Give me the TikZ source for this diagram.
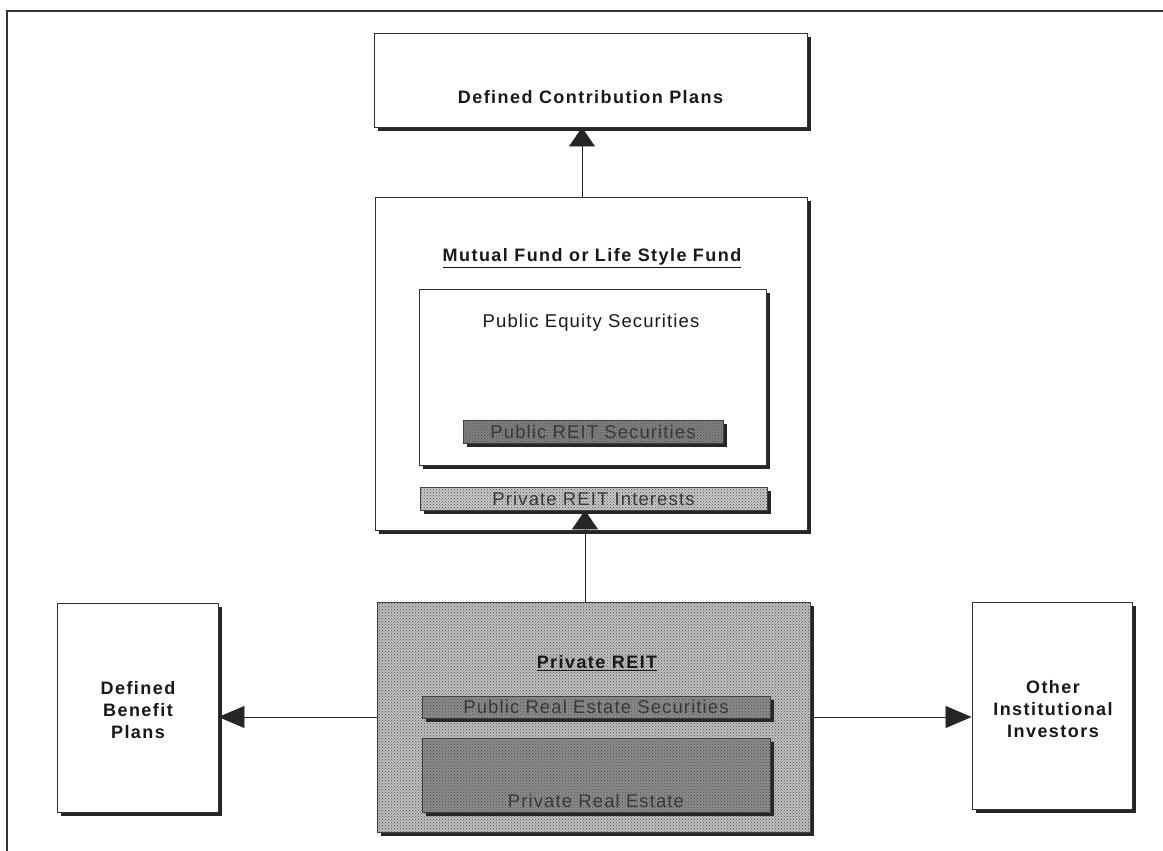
\documentclass[tikz,border=0pt]{standalone}
\usepackage{fontspec}
\setmainfont{Liberation Sans}
\newfontfamily\headfont[LetterSpace=8]{Liberation Sans}
\newfontfamily\bodyfont[LetterSpace=6]{Liberation Sans}
\usetikzlibrary{arrows.meta,shadows,patterns}

\tikzset{
  boxshadow/.style={drop shadow={shadow xshift=4pt,shadow yshift=-4pt,fill=black!85,opacity=1}},
  whitebox/.style={boxshadow, draw=black!80, line width=0.9pt, fill=white, inner sep=0pt},
  dotbox/.style={boxshadow, draw=black!75, line width=0.8pt, preaction={fill=#1},
    pattern=crosshatch dots, pattern color=black!70, inner sep=0pt},
  headtext/.style={font=\headfont\bfseries\fontsize{18}{22}\selectfont, align=center, text=black!90},
  bodytext/.style={font=\bodyfont\fontsize{18.5}{22}\selectfont, text=black!90},
  bartext/.style={font=\bodyfont\fontsize{18.5}{22}\selectfont, text=black!78},
  link/.style={draw=black!85, line width=0.8pt},
  uphead/.style={-{Triangle[length=19pt,width=26pt]}},
  sidehead/.style={-{Triangle[length=26pt,width=22pt]}}
}

\begin{document}
\begin{tikzpicture}[x=1pt,y=-1pt]
  \useasboundingbox (0,0) rectangle (1163,851);
  % page frame
  \draw[line width=2pt, black!80] (7,851) -- (7,11) -- (1163,11);

  % top: defined contribution plans
  \node[whitebox, minimum width=433pt, minimum height=94pt] (dc) at (590.5,80) {};
  \node[headtext] (dclbl) at (590.5,97) {Defined Contribution Plans};

  % mutual fund with its holdings
  \node[whitebox, minimum width=432pt, minimum height=333pt] (mf) at (591,363.5) {};
  \node[headtext] (mflbl) at (592,258) {\underline{Mutual Fund or Life Style Fund}};
  \node[whitebox, minimum width=347pt, minimum height=176pt] (pes) at (592.5,377) {};
  \node[bodytext] (peslbl) at (591,323) {Public Equity Securities};
  \node[dotbox=black!50, minimum width=260pt, minimum height=23pt, bartext] (prs) at (593,431.5) {Public REIT Securities};
  \node[dotbox=black!22, minimum width=347pt, minimum height=23pt, bartext] (pri) at (593.5,498.5) {Private REIT Interests};

  % private REIT
  \node[dotbox=black!25, minimum width=433pt, minimum height=230pt] (preit) at (593.5,717) {};
  \node[headtext] (preitlbl) at (597,663) {\underline{Private REIT}};
  \node[dotbox=black!45, minimum width=348pt, minimum height=22pt, bartext] (pres) at (596,707) {Public Real Estate Securities};
  \node[dotbox=black!45, minimum width=348pt, minimum height=74pt] (pre) at (596,775) {};
  \node[bartext] (prelbl) at (596,801) {Private Real Estate};

  % side investors
  \node[whitebox, minimum width=161pt, minimum height=209pt] (dbp) at (137.5,707.5) {};
  \node[headtext] (dbplbl) at (138,710) {Defined\\Benefit\\Plans};
  \node[whitebox, minimum width=160pt, minimum height=207pt] (oii) at (1052,705.5) {};
  \node[headtext] (oiilbl) at (1053,709) {Other\\Institutional\\Investors};

  % flows
  \draw[link, uphead] ([xshift=-9pt]mf.north) -- ([xshift=-8.5pt]dc.south);
  \draw[link, uphead] ([xshift=-8.5pt]preit.north) -- ([xshift=-8.5pt]pri.south);
  \draw[link, sidehead] (preit.west) -- (preit.west -| dbp.east);
  \draw[link, sidehead] (preit.east) -- (preit.east -| oii.west);
\end{tikzpicture}
\end{document}
